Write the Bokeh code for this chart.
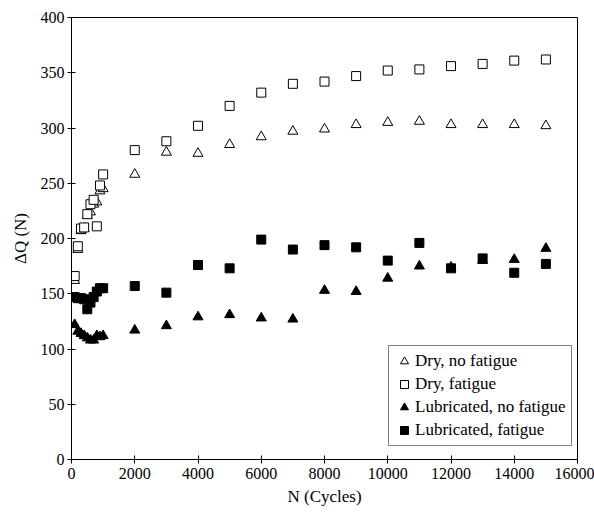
from bokeh.plotting import figure
from bokeh.models import Legend, LegendItem, FixedTicker
from bokeh.embed import file_html
from bokeh.resources import INLINE

# ---- data ----
n_early = [100, 200, 300, 400, 500, 600, 700, 800, 900, 1000]
n_late = [2000, 3000, 4000, 5000, 6000, 7000, 8000, 9000, 10000, 11000, 12000, 13000, 14000, 15000]

dry_nofat = [162, 190, 207, 209, 221, 224, 231, 233, 243, 245,
             258, 278, 277, 285, 292, 297, 299, 303, 305, 306, 303, 303, 303, 302]
dry_fat = [166, 193, 209, 210, 222, 231, 235, 211, 248, 258,
           280, 288, 302, 320, 332, 340, 342, 347, 352, 353, 356, 358, 361, 362]
lub_nofat = [122, 116, 114, 112, 110, 108, 108, 112, 111, 112,
             117, 121, 129, 131, 128, 127, 153, 152, 164, 175, 174, 180, 181, 191]
lub_fat = [147, 146, 146, 145, 136, 142, 147, 152, 155, 155,
           157, 151, 176, 173, 199, 190, 194, 192, 180, 196, 173, 182, 169, 177]
N = n_early + n_late

series_labels = ["Dry, no fatigue", "Dry, fatigue", "Lubricated, no fatigue", "Lubricated, fatigue"]
x_ticks = [0, 2000, 4000, 6000, 8000, 10000, 12000, 14000, 16000]
y_ticks = [0, 50, 100, 150, 200, 250, 300, 350, 400]

FONT = "Times New Roman"

p = figure(width=594, height=518, output_backend="svg", toolbar_location=None,
           x_range=(0, 16000), y_range=(0, 400),
           min_border_left=71, min_border_right=17, min_border_top=17, min_border_bottom=59)
p.background_fill_color = "white"
p.border_fill_color = "white"
p.outline_line_color = "black"
p.outline_line_width = 1
p.grid.visible = False

r1 = p.scatter(N, dry_nofat, marker="triangle", size=10, fill_color="white", line_color="black", line_width=1)
r2 = p.scatter(N, dry_fat, marker="square", size=9, fill_color="white", line_color="black", line_width=1)
r3 = p.scatter(N, lub_nofat, marker="triangle", size=10, fill_color="black", line_color="black")
r4 = p.scatter(N, lub_fat, marker="square", size=9, fill_color="black", line_color="black")

for ax in (p.xaxis[0], p.yaxis[0]):
    ax.axis_line_color = "black"
    ax.axis_line_width = 1
    ax.major_tick_line_color = "black"
    ax.major_tick_in = 4
    ax.major_tick_out = 4
    ax.minor_tick_line_color = None
    ax.major_label_text_font = FONT
    ax.major_label_text_font_size = "16px"
    ax.major_label_text_color = "black"
    ax.axis_label_text_font = FONT
    ax.axis_label_text_font_size = "17px"
    ax.axis_label_text_font_style = "normal"
    ax.axis_label_text_color = "black"

p.xaxis.ticker = FixedTicker(ticks=x_ticks)
p.yaxis.ticker = FixedTicker(ticks=y_ticks)
p.xaxis.axis_label = "N (Cycles)"
p.yaxis.axis_label = "ΔQ (N)"
p.xaxis.major_label_standoff = 4
p.yaxis.major_label_standoff = 3
p.xaxis.axis_label_standoff = 5
p.yaxis.axis_label_standoff = 8

legend = Legend(items=[LegendItem(label=series_labels[0], renderers=[r1]),
                       LegendItem(label=series_labels[1], renderers=[r2]),
                       LegendItem(label=series_labels[2], renderers=[r3]),
                       LegendItem(label=series_labels[3], renderers=[r4])],
                location=(317, 13))
legend.border_line_color = "black"
legend.border_line_width = 1
legend.background_fill_alpha = 1
legend.label_text_font = FONT
legend.label_text_font_size = "17px"
legend.label_text_color = "black"
legend.glyph_width = 20
legend.glyph_height = 20
legend.label_height = 20
legend.spacing = 3
legend.padding = 5
legend.margin = 0
legend.label_standoff = 1
p.add_layout(legend, "center")

open("out.html", "w").write(file_html(p, INLINE))
